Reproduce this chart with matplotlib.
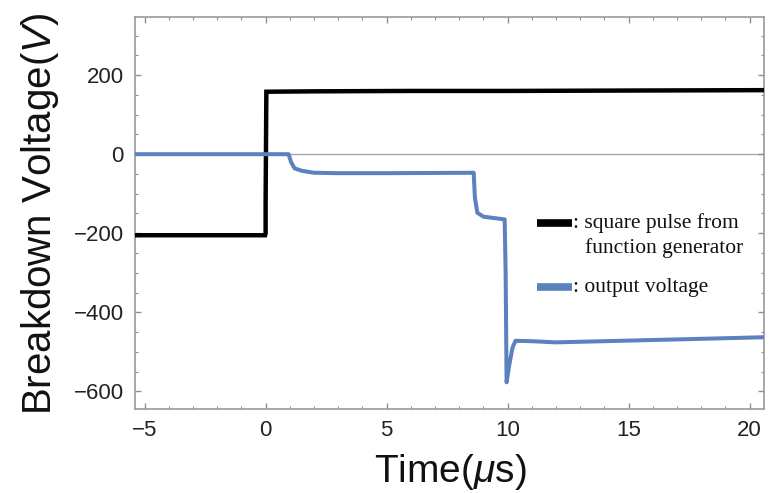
import matplotlib
matplotlib.use("Agg")
import matplotlib.pyplot as plt
from matplotlib.ticker import MultipleLocator
from matplotlib.lines import Line2D

# ---- data ----
t_pulse = [-5.4, -0.02, 0.0, 0.0, 0.03, 2.0, 6.0, 10.0, 15.0, 20.6]
v_pulse = [-205, -205, -200, -120, 158, 159, 160, 160, 161, 162]

t_out = [-5.4, -2.0, 0.0, 0.95, 1.05, 1.2, 1.5, 2.0, 3.0, 5.0, 8.6,
         8.65, 8.75, 9.0, 9.5, 9.88, 9.92, 9.96, 10.05, 10.2, 10.33,
         11.0, 12.0, 14.0, 16.0, 18.0, 20.6]
v_out = [0, 0, 0, 0, -20, -36, -42, -47, -48, -48, -47,
         -110, -148, -158, -162, -165, -300, -577, -540, -490, -472,
         -473, -476, -473, -470, -467, -463]

x_ticks = [-5, 0, 5, 10, 15, 20]
y_ticks = [-600, -400, -200, 0, 200]
legend_labels = [": square pulse from", "function generator", ": output voltage"]

BLUE = "#5b82bd"

plt.rcParams["mathtext.fontset"] = "custom"
plt.rcParams["mathtext.rm"] = "Liberation Sans"
plt.rcParams["mathtext.it"] = "Liberation Sans:italic"

fig = plt.figure(figsize=(7.73, 4.93), dpi=100)
ax = fig.add_axes([0.1746, 0.170, 0.8138, 0.7955])

ax.axhline(0, color="#a8a8a8", lw=1.0, zorder=1)
ax.plot(t_pulse, v_pulse, color="black", lw=3.2, solid_joinstyle="miter", zorder=3)
ax.plot(t_out, v_out, color=BLUE, lw=2.9, zorder=4)

ax.set_xlim(-5.4, 20.6)
ax.set_ylim(-645, 347)
ax.set_xticks(x_ticks)
ax.set_yticks(y_ticks)
ax.xaxis.set_minor_locator(MultipleLocator(1))
ax.yaxis.set_minor_locator(MultipleLocator(50))
ax.tick_params(which="both", direction="in", top=True, right=True, color="#909090")
ax.tick_params(which="major", length=4.5, width=1.0, pad=8, labelsize=16,
               labelcolor="#222222")
ax.tick_params(which="minor", length=2.5, width=0.8)
for lab in ax.get_xticklabels() + ax.get_yticklabels():
    lab.set_fontfamily("Liberation Sans")
for s in ax.spines.values():
    s.set_color("#9a9a9a")
    s.set_linewidth(1.2)

# axis labels
fig.text(0.0517, 0.567, r"Breakdown Voltage($\mathit{V}$)", rotation=90,
         ha="center", va="center", fontsize=29, family="Liberation Sans",
         color="#111111")
fig.text(0.582, 0.003, r"Time($\mathit{\mu}$s)", ha="center", va="bottom",
         fontsize=28, family="Liberation Sans", color="#111111")

# legend drawn by hand
tr = ax.transAxes
ax.add_line(Line2D([0.639, 0.695], [0.4745, 0.4745], transform=tr,
                   color="black", lw=5.5, solid_capstyle="butt"))
ax.add_line(Line2D([0.639, 0.695], [0.311, 0.311], transform=tr,
                   color=BLUE, lw=5.5, solid_capstyle="butt"))
fs = 15.5
ax.text(0.696, 0.4745, legend_labels[0], transform=tr, ha="left", va="center",
        fontsize=fs, family="Liberation Serif", color="#111111")
ax.text(0.7155, 0.411, legend_labels[1], transform=tr, ha="left", va="center",
        fontsize=fs, family="Liberation Serif", color="#111111")
ax.text(0.696, 0.311, legend_labels[2], transform=tr, ha="left", va="center",
        fontsize=fs, family="Liberation Serif", color="#111111")

fig.savefig("out.png", dpi=100)
